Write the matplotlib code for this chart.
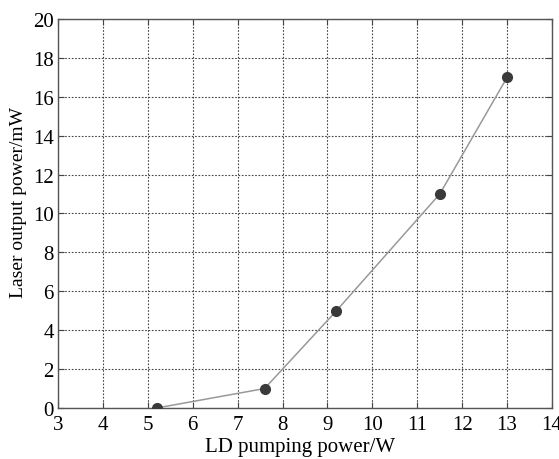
import matplotlib
matplotlib.use("Agg")
import matplotlib.pyplot as plt

pump_power = [5.2, 7.6, 9.2, 11.5, 13.0]
output_power = [0.0, 1.0, 5.0, 11.0, 17.0]
x_ticks = [3, 4, 5, 6, 7, 8, 9, 10, 11, 12, 13, 14]
y_ticks = [0, 2, 4, 6, 8, 10, 12, 14, 16, 18, 20]

plt.rcParams['font.family'] = ['Liberation Serif', 'DejaVu Serif']

fig = plt.figure(figsize=(5.59, 4.6), dpi=100)
ax = fig.add_axes([0.1038, 0.1109, 0.8837, 0.8456])

ax.plot(pump_power, output_power, color='#999999', lw=1.1, zorder=3,
        marker='o', markersize=7, markerfacecolor='#3a3a3a', markeredgecolor='#3a3a3a')

ax.set_xlim(3, 14)
ax.set_ylim(0, 20)
ax.set_xticks(x_ticks)
ax.set_yticks(y_ticks)
ax.grid(True, linestyle=(0, (1.5, 1.5)), color='#444444', linewidth=0.8)
ax.tick_params(direction='in', top=True, right=True, labelsize=15, length=4,
               color='#444444')
ax.tick_params(axis='x', pad=5)
ax.tick_params(axis='y', pad=3)
for s in ax.spines.values():
    s.set_color('#555555')
    s.set_linewidth(1.0)

ax.set_xlabel('LD pumping power/W', fontsize=15, labelpad=4)
ax.xaxis.set_label_coords(0.49, -0.075)
ax.set_ylabel('Laser output power/mW', fontsize=14)
ax.yaxis.set_label_coords(-0.062, 0.53)

fig.savefig('out.png', dpi=100)
